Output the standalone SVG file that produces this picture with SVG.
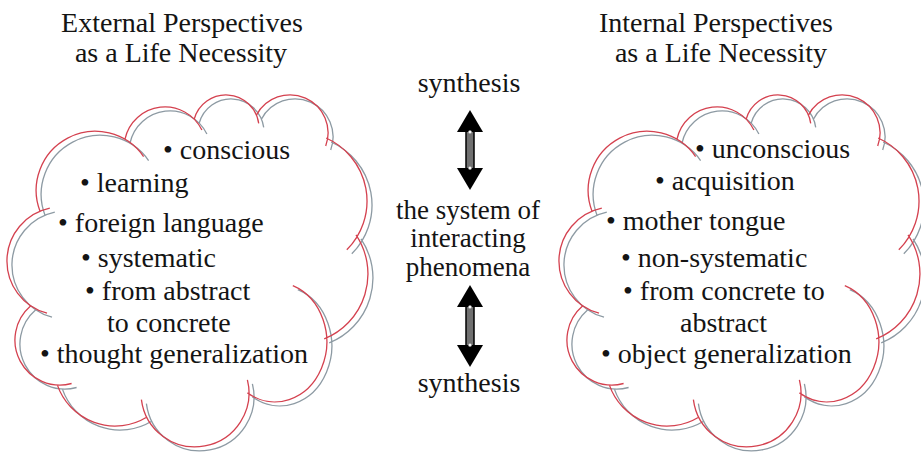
<svg xmlns="http://www.w3.org/2000/svg" xmlns:xlink="http://www.w3.org/1999/xlink" width="921" height="453" viewBox="0 0 921 453">
<style>
  .t { font-family: "Liberation Serif", "Times New Roman", serif; font-size: 28px; fill: #141414; }
  .m { font-size: 27px; }
  .c { text-anchor: middle; }
  .red { fill: none; stroke: #d4414f; stroke-width: 1.3; }
  .gray { fill: none; stroke: #8d9aa3; stroke-width: 1.3; }
  .head { fill: #000; }
  .shaft { fill: #707070; stroke: #000; stroke-width: 1.5; }
  .dot { fill: #fff; stroke: #999; stroke-width: 0.5; }
</style>
<defs>
  <path id="cloud" d="M47.0,313.2 A54,54 0 0 1 49.8,208.2
    M40.0,211.2 A59,59 0 0 1 143.6,156.6
    M125.0,139.1 A41,41 0 0 1 201.9,130.0
    M194.2,119.2 A33,33 0 0 1 258.7,123.4
    M256.4,115.2 A38,38 0 0 1 325.7,146.0
    M326.1,138.0 A69,69 0 0 1 346.8,249.8
    M356.0,234.9 A70,70 0 0 1 324.2,338.9
    M292.8,285.6 A52,60 0 1 1 247.4,392.9
    M247.4,379.9 A54,54 0 1 1 141.4,399.6
    M146.6,417.2 A61,61 0 0 1 57.3,384.9
    M71.6,383.5 A45,45 0 0 1 30.5,306.0"/>
</defs>
<rect width="921" height="453" fill="#fff"/>

<g id="external">
  <use xlink:href="#cloud" class="gray" transform="translate(5,4)"/>
  <use xlink:href="#cloud" class="red"/>
  <text class="t c" x="182" y="32">External Perspectives</text>
  <text class="t c" x="181" y="62">as a Life Necessity</text>
  <text class="t" x="163" y="159">• conscious</text>
  <text class="t" x="80" y="192">• learning</text>
  <text class="t" x="58" y="232">• foreign language</text>
  <text class="t" x="81" y="267">• systematic</text>
  <text class="t" x="85" y="300">• from abstract</text>
  <text class="t" x="107" y="332">to concrete</text>
  <text class="t" x="40" y="363">• thought generalization</text>
</g>

<g id="internal">
  <g transform="translate(552,0)">
    <use xlink:href="#cloud" class="gray" transform="translate(5,4)"/>
    <use xlink:href="#cloud" class="red"/>
  </g>
  <text class="t c" x="716" y="32">Internal Perspectives</text>
  <text class="t c" x="721" y="62">as a Life Necessity</text>
  <text class="t" x="695" y="158">• unconscious</text>
  <text class="t" x="655" y="190">• acquisition</text>
  <text class="t" x="606" y="230">• mother tongue</text>
  <text class="t" x="621" y="267">• non-systematic</text>
  <text class="t" x="623" y="300">• from concrete to</text>
  <text class="t" x="680" y="332">abstract</text>
  <text class="t" x="601" y="363">• object generalization</text>
</g>

<g id="synthesis-top">
  <text class="t c" x="469" y="92">synthesis</text>
</g>
<g id="system">
  <text class="t m c" x="468" y="219">the system of</text>
  <text class="t m c" x="468" y="247">interacting</text>
  <text class="t m c" x="468" y="276">phenomena</text>
</g>
<g id="synthesis-bottom">
  <text class="t c" x="469" y="392">synthesis</text>
</g>

<g id="connectors">
  <rect class="shaft" x="466" y="131" width="8" height="38"/>
  <polygon class="head" points="470,110 483,132 457,132"/>
  <polygon class="head" points="457,168 483,168 470,190"/>
  <circle class="dot" cx="470" cy="132" r="1.6"/>
  <circle class="dot" cx="470" cy="168" r="1.6"/>
  <rect class="shaft" x="466" y="306" width="8" height="40"/>
  <polygon class="head" points="470,285 483,307 457,307"/>
  <polygon class="head" points="457,345 483,345 470,367"/>
  <circle class="dot" cx="470" cy="307" r="1.6"/>
  <circle class="dot" cx="470" cy="345" r="1.6"/>
</g>
</svg>
